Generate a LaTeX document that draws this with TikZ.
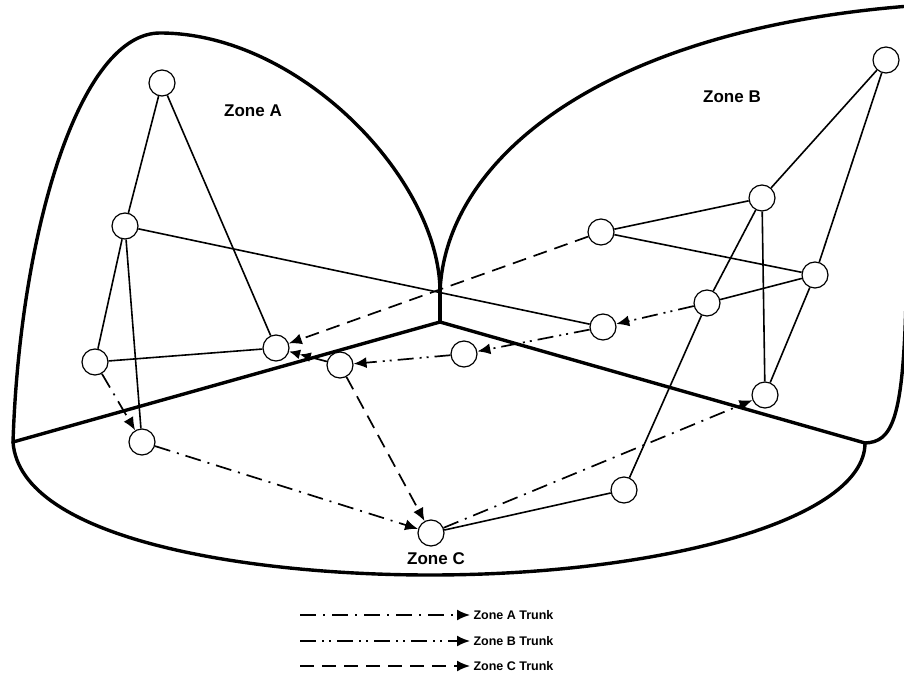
\documentclass[tikz,border=0pt]{standalone}
\usepackage{fontspec}
\setmainfont{Liberation Sans}
\usetikzlibrary{arrows.meta}
\begin{document}
\begin{tikzpicture}[x=1pt,y=-1pt,
  nd/.style={circle,draw,fill=white,inner sep=0pt,minimum size=26pt,line width=1.2pt},
  link/.style={line width=1.6pt},
  zone/.style={line width=3.4pt,line cap=round,line join=round},
  tip/.style={-{Latex[length=13pt,width=11pt]}},
  dtip/.style={-{Latex[length=11pt,width=10pt]Latex[length=11pt,width=10pt]}},
  trunkA/.style={line width=1.7pt,dash pattern=on 16pt off 7pt on 2pt off 7pt},
  trunkB/.style={line width=1.7pt,dash pattern=on 16pt off 6pt on 2pt off 5pt on 2pt off 6pt},
  trunkC/.style={line width=1.7pt,dash pattern=on 14pt off 8pt},
  lbl/.style={font=\bfseries\fontsize{17}{20}\selectfont},
  leg/.style={font=\bfseries\fontsize{12.5}{14}\selectfont,anchor=west}]
\useasboundingbox (0,0) rectangle (904,679);

% zone outlines
\coordinate (J) at (440,322);
\coordinate (Jt) at (440,292);
\coordinate (L) at (13,442);
\coordinate (R) at (865,443);
\begin{scope}
\clip (0,0) rectangle (904,679);
\draw[zone] (L) .. controls (20,230) and (80,33) .. (160,33)
            .. controls (300,33) and (440,180) .. (Jt);
\draw[zone] (Jt) .. controls (445,160) and (600,30) .. (910,6);
\draw[zone] (906,300) .. controls (903,420) and (892,442) .. (R);
\draw[zone] (L) .. controls (20,540) and (250,575) .. (430,575)
            .. controls (660,575) and (865,520) .. (R);
\draw[zone] (L) -- (J) -- (R);
\draw[zone] (J) -- (Jt);
\end{scope}

% labels
\node[lbl] (la) at (253,111) {Zone A};
\node[lbl] (lb) at (732,97) {Zone B};
\node[lbl] (lc) at (436,559) {Zone C};

% nodes
\node[nd] (A1) at (162,83) {};
\node[nd] (A2) at (125,226) {};
\node[nd] (A3) at (95,362) {};
\node[nd] (A4) at (142,442) {};
\node[nd] (A5) at (276,348) {};
\node[nd] (A6) at (340,365) {};
\node[nd] (B1) at (886,60) {};
\node[nd] (B2) at (762,198) {};
\node[nd] (B3) at (601,232) {};
\node[nd] (B4) at (815,275) {};
\node[nd] (B5) at (707,303) {};
\node[nd] (B6) at (603,327) {};
\node[nd] (B7) at (765,395) {};
\node[nd] (B8) at (464,354) {};
\node[nd] (C1) at (431,533) {};
\node[nd] (C2) at (624,490) {};

% solid links
\draw[link] (A1) -- (A2);
\draw[link] (A1) -- (A5);
\draw[link] (A2) -- (A3);
\draw[link] (A2) -- (A4);
\draw[link] (A3) -- (A5);
\draw[link] (A2) -- (B6);
\draw[link] (B1) -- (B2);
\draw[link] (B1) -- (B4);
\draw[link] (B2) -- (B3);
\draw[link] (B3) -- (B4);
\draw[link] (B2) -- (B7);
\draw[link] (B2) -- (B5);
\draw[link] (B5) -- (C2);
\draw[link] (B4) -- (B5);
\draw[link] (B4) -- (B7);
\draw[link] (C1) -- (C2);

% trunks
\draw[trunkA,tip] (A3) -- (A4);
\draw[trunkA,tip] (A4) -- (C1);
\draw[trunkA,tip] (C1) -- (B7);
\draw[trunkB,tip] (B5) -- (B6);
\draw[trunkB,tip] (B6) -- (B8);
\draw[trunkB,tip] (B8) -- (A6);
\draw[trunkB,dtip] (A6) -- (A5);
\draw[trunkC,tip] (B3) -- (A5);
\draw[trunkC,tip] (A6) -- (C1);

% legend
\coordinate (ka) at (300,615);
\coordinate (kb) at (300,641);
\coordinate (kc) at (300,666);
\node[leg] (ta) at (470,615) {Zone A Trunk};
\node[leg] (tb) at (470,641) {Zone B Trunk};
\node[leg] (tc) at (470,666) {Zone C Trunk};
\draw[trunkA,tip] (ka) -- (ta.west);
\draw[trunkB,tip] (kb) -- (tb.west);
\draw[trunkC,tip] (kc) -- (tc.west);
\end{tikzpicture}
\end{document}
